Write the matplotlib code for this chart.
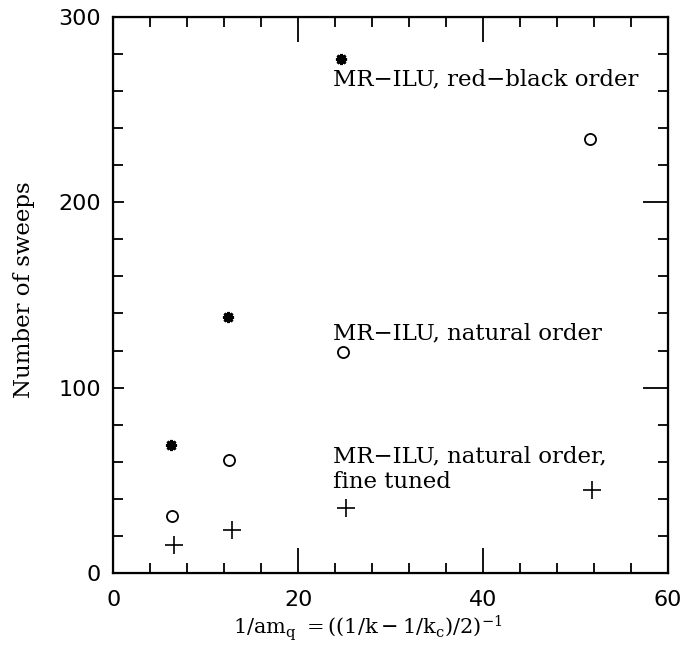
import numpy as np
import matplotlib as mpl
mpl.use('Agg')
import matplotlib.pyplot as plt
from matplotlib.ticker import MultipleLocator

plt.rcParams['mathtext.fontset'] = 'dejavuserif'

# MR-ILU, red-black order
x_rb = [6.3, 12.4, 24.6]
y_rb = [69, 138, 277]
# MR-ILU, natural order
x_nat = [6.4, 12.5, 24.8, 51.6]
y_nat = [31, 61, 119, 234]
# MR-ILU, natural order, fine tuned
x_ft = [6.6, 12.8, 25.2, 51.8]
y_ft = [15, 23, 35, 45]

labels = ['MR\u2212ILU, red\u2212black order',
          'MR\u2212ILU, natural order',
          'MR\u2212ILU, natural order,\nfine tuned']
label_pos = [(23.8, 266), (23.8, 129), (23.8, 56)]

fig = plt.figure(figsize=(6.86, 6.46), dpi=100)
ax = fig.add_axes([0.165, 0.113, 0.809, 0.861])

ax.plot(x_rb, y_rb, ls='none', marker=(8, 2, 0), ms=8, mew=2.0, color='black')
ax.plot(x_nat, y_nat, ls='none', marker='o', ms=8, mfc='none', mew=1.3, color='black')
ax.plot(x_ft, y_ft, ls='none', marker='+', ms=13, mew=1.2, color='black')

for txt, (tx, ty) in zip(labels, label_pos):
    ax.text(tx, ty, txt, family='DejaVu Serif', fontsize=16.5, va='center',
            ha='left', linespacing=1.25)

ax.set_xlim(0, 60)
ax.set_ylim(0, 300)
ax.xaxis.set_major_locator(MultipleLocator(20))
ax.xaxis.set_minor_locator(MultipleLocator(4))
ax.yaxis.set_major_locator(MultipleLocator(100))
ax.yaxis.set_minor_locator(MultipleLocator(20))

ax.tick_params(which='both', direction='in', top=True, right=False,
               labelsize=16, width=1.3)
ax.tick_params(axis='x', which='major', length=18, pad=12)
ax.tick_params(axis='y', which='major', length=8, pad=9)
ax.tick_params(which='minor', length=7)
for s in ax.spines.values():
    s.set_linewidth(1.6)

# right side has the long major ticks
ax2 = ax.twinx()
ax2.set_ylim(0, 300)
ax2.yaxis.set_major_locator(MultipleLocator(100))
ax2.yaxis.set_minor_locator(MultipleLocator(20))
ax2.tick_params(which='both', direction='in', labelright=False, width=1.3)
ax2.tick_params(which='major', length=18)
ax2.tick_params(which='minor', length=7)

ax.set_ylabel('Number of sweeps', family='DejaVu Serif', fontsize=16.5)
ax.yaxis.set_label_coords(-0.14, 0.51)
ax.set_xlabel(r'$1/\mathrm{am_q}\ = ((1/\mathrm{k}-1/\mathrm{k_c})/2)^{-1}$',
              fontsize=15, labelpad=2)
ax.xaxis.set_label_coords(0.458, -0.072)

fig.savefig('out.png', dpi=100)
